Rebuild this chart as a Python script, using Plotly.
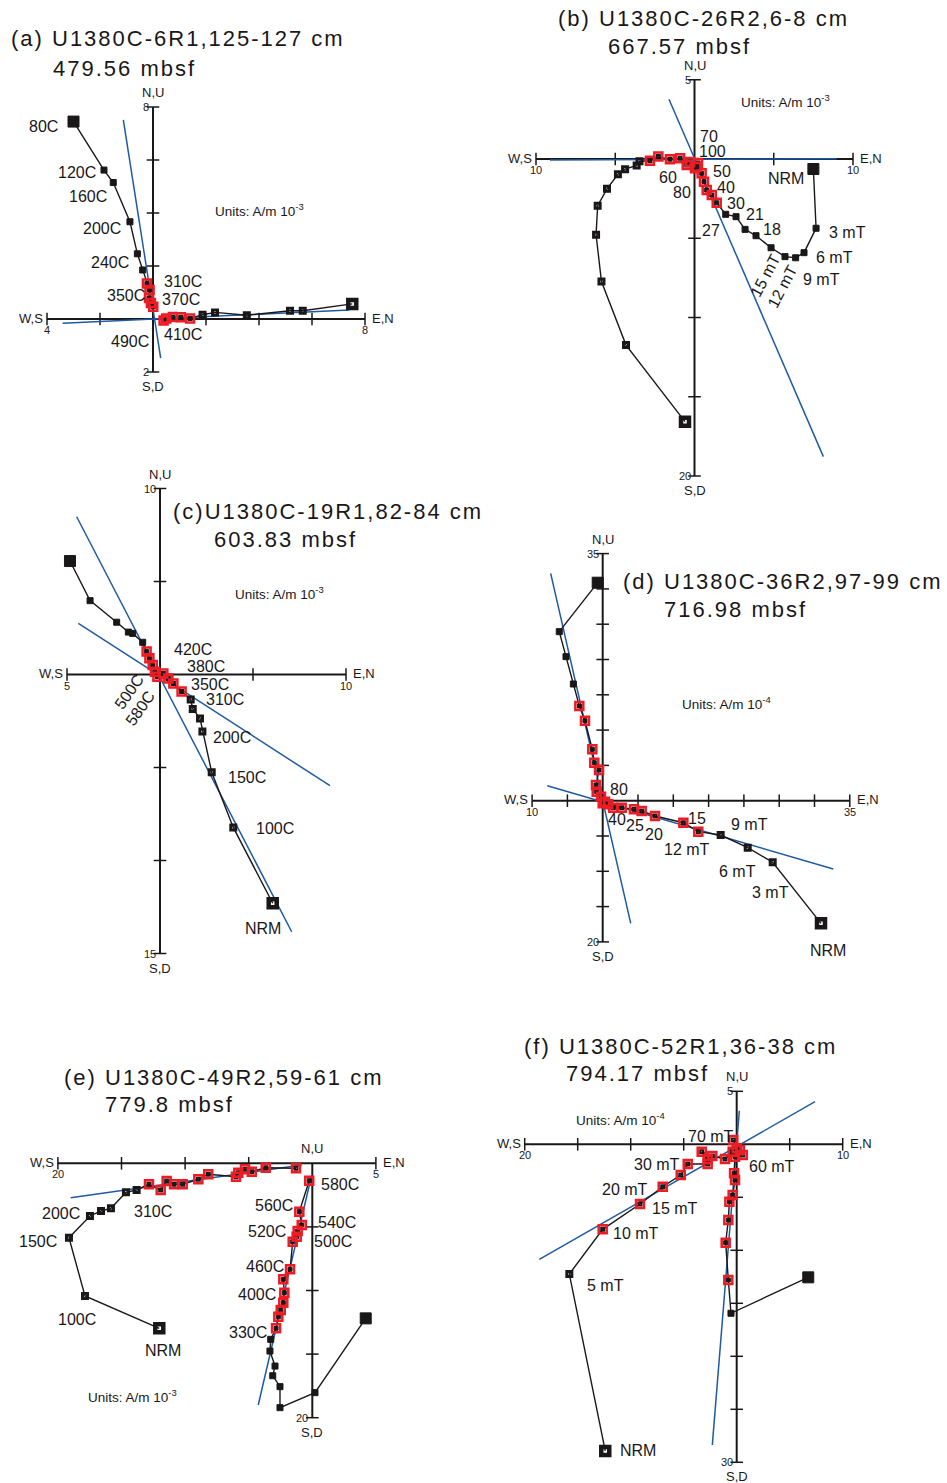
import numpy as np
import plotly.graph_objects as go

W, H = 947, 1483
INK = "#1a1718"
RED = "#ed1c24"
BLUE = "#1f5aa6"
FONT = "Liberation Sans, Arial, sans-serif"

# ---------------- (a) U1380C-6R1 ----------------
A_H_X = [-3.00, -1.85, -1.50, -0.87, -0.59, -0.39, -0.23, -0.13, -0.15, -0.08, 0.01]
A_H_Y = [7.45, 5.62, 5.15, 3.67, 2.46, 1.85, 1.34, 1.09, 0.79, 0.60, 0.46]
A_H_FIT = [0, 0, 0, 0, 0, 0, 1, 1, 1, 1, 1]
A_V_X = [7.52, 5.65, 5.17, 3.54, 2.34, 1.87, 1.40, 1.05, 0.75, 0.50, 0.40]
A_V_Y = [0.57, 0.31, 0.31, 0.14, 0.25, 0.16, 0.02, 0.07, 0.08, 0.02, -0.06]
A_V_FIT = [0, 0, 0, 0, 0, 0, 1, 1, 1, 1, 1]
A_LINES = [[(-1.12, 7.51), (0.29, -1.48)], [(-3.41, -0.16), (7.41, 0.34)]]
A_LABELS = [("80C", -4.15, 7.28), ("120C", -2.87, 5.51), ("160C", -2.45, 4.64),
            ("200C", -1.92, 3.40), ("240C", -1.62, 2.15), ("310C", 1.13, 1.40),
            ("350C", -1.02, 0.87), ("370C", 1.06, 0.75), ("490C", -0.87, -0.83),
            ("410C", 1.13, -0.60)]
A_ROT = []
A_UNITS = ("-3", 4.0, 4.11)
A_TITLE = ["(a) U1380C-6R1,125-127 cm", "479.56 mbsf"]

# ---------------- (b) U1380C-26R2 ----------------
B_H_X = [7.50, 7.67, 6.91, 6.38, 5.71, 4.83, 3.88, 3.19, 2.62, 1.97, 1.40, 1.09, 0.77, 0.60, 0.45, 0.03, 0.22]
B_H_Y = [-0.63, -4.37, -5.91, -6.23, -6.16, -5.60, -4.84, -4.44, -3.64, -3.49, -2.76, -2.27, -1.96, -1.43, -0.90, -0.59, -0.25]
B_H_FIT = [0, 0, 0, 0, 0, 0, 0, 0, 0, 0, 1, 1, 1, 1, 1, 1, 1]
B_V_X = [-0.60, -4.32, -5.87, -6.21, -6.11, -5.52, -4.83, -4.38, -3.65, -3.47, -2.81, -2.28, -1.55, -0.91, -0.49, -0.28, 0.14]
B_V_Y = [-16.57, -11.74, -7.73, -4.78, -2.95, -1.88, -0.96, -0.64, -0.41, -0.14, -0.11, 0.15, -0.02, 0.04, -0.38, -0.19, -0.49]
B_V_FIT = [0, 0, 0, 0, 0, 0, 0, 0, 0, 0, 1, 1, 1, 1, 1, 1, 1]
B_LINES = [[(-9.12, -0.06), (8.97, 0.02)], [(-1.61, 3.77), (8.13, -18.78)]]
B_LABELS = [("70", 0.92, 1.40), ("100", 1.12, 0.50), ("50", 1.72, -0.78), ("60", -1.65, -1.15),
            ("40", 1.99, -1.80), ("80", -0.81, -2.10), ("30", 2.62, -2.80), ("21", 3.82, -3.53),
            ("18", 4.87, -4.44), ("27", 1.04, -4.48), ("NRM", 5.77, -1.26), ("3 mT", 9.64, -4.62),
            ("6 mT", 8.84, -6.23), ("9 mT", 8.00, -7.63)]
B_ROT = [("15 mT", 4.45, -7.32, -62), ("12 mT", 5.56, -8.06, -62)]
B_UNITS = ("-3", 5.71, 3.66)
B_TITLE = ["(b) U1380C-26R2,6-8 cm", "667.57 mbsf"]

# ---------------- (c) U1380C-19R1 ----------------
C_H_X = [-4.84, -3.76, -2.33, -1.70, -1.47, -0.93, -0.72, -0.57, -0.39, -0.27, -0.14]
C_H_Y = [6.10, 3.97, 2.81, 2.28, 2.21, 1.73, 1.23, 0.87, 0.51, 0.15, -0.12]
C_H_FIT = [0, 0, 0, 0, 0, 0, 1, 1, 1, 1, 1]
C_V_X = [6.06, 3.94, 2.78, 2.28, 2.15, 1.76, 1.65, 1.16, 0.72, 0.45, 0.18]
C_V_Y = [-12.30, -8.22, -5.26, -3.07, -2.36, -1.85, -1.34, -0.92, -0.48, -0.21, 0.06]
C_V_FIT = [0, 0, 0, 0, 0, 0, 0, 1, 1, 1, 1]
C_LINES = [[(-4.48, 8.48), (7.08, -13.83)], [(-4.39, 2.75), (9.14, -5.98)]]
C_LABELS = [("420C", 1.77, 1.32), ("380C", 2.46, 0.42), ("350C", 2.69, -0.56), ("310C", 3.49, -1.32),
            ("200C", 3.87, -3.40), ("150C", 4.70, -5.53), ("100C", 6.20, -8.27), ("NRM", 5.56, -13.68)]
C_ROT = [("500C", -1.65, -0.92, -55), ("580C", -1.08, -1.82, -55)]
C_UNITS = ("-3", 6.40, 4.37)
C_TITLE = ["(c)U1380C-19R1,82-84 cm", "603.83 mbsf"]

# ---------------- (d) U1380C-36R2 ----------------
D_H_X = [-0.71, -6.15, -5.20, -4.16, -3.31, -2.51, -1.47, -1.19, -0.52, -0.95, -0.85, -0.24, 0.0]
D_H_Y = [30.88, 23.94, 20.40, 16.53, 13.41, 11.33, 7.28, 5.38, 4.35, 2.22, 1.27, 0.57, -0.37]
D_H_FIT = [0, 0, 0, 0, 1, 1, 1, 1, 1, 1, 1, 1, 1]
D_V_X = [30.92, 24.08, 20.54, 16.71, 13.54, 11.42, 7.41, 5.52, 4.43, 2.69, 1.50, 0.79, 0.33]
D_V_Y = [-17.37, -8.73, -6.65, -4.86, -4.39, -3.12, -2.17, -1.46, -1.22, -0.99, -0.99, -0.52, -0.14]
D_V_FIT = [0, 0, 0, 0, 1, 1, 1, 1, 1, 1, 1, 1, 1]
D_LINES = [[(-7.37, 32.21), (3.97, -17.37)], [(-7.85, 2.12), (32.66, -9.67)]]
D_LABELS = [("80", 2.27, 1.62), ("40", 2.07, -2.63), ("25", 4.62, -3.54), ("20", 7.22, -4.72),
            ("15", 13.40, -2.49), ("9 mT", 20.86, -3.44), ("12 mT", 11.98, -6.98),
            ("6 mT", 19.16, -10.06), ("3 mT", 23.70, -13.03), ("NRM", 31.87, -21.15)]
D_ROT = []
D_UNITS = ("-4", 17.56, 13.88)
D_TITLE = ["(d) U1380C-36R2,97-99 cm", "716.98 mbsf"]

# ---------------- (e) U1380C-49R2 ----------------
E_H_X = [4.20, 0.21, -2.54, -2.54, -3.11, -2.93, -3.33, -3.27, -2.85, -2.67, -2.48, -2.28, -2.20,
         -2.28, -1.75, -1.54, -1.23, -1.15, -0.83, -1.02, -0.24]
E_H_Y = [-12.19, -18.03, -19.21, -17.56, -16.70, -15.94, -14.76, -13.84, -12.97, -12.06, -11.53,
         -10.96, -10.17, -9.12, -8.33, -6.16, -5.77, -5.32, -4.85, -3.80, -1.37]
E_H_FIT = [0, 0, 0, 0, 0, 0, 0, 0, 1, 1, 1, 1, 1, 1, 1, 1, 1, 1, 1, 1, 1]
E_V_X = [-12.03, -17.87, -19.13, -17.48, -16.61, -15.83, -14.65, -13.81, -12.84, -11.92, -11.45,
         -10.87, -10.19, -8.96, -8.18, -6.00, -5.82, -5.29, -4.76, -3.66, -1.28]
E_V_Y = [-12.97, -10.43, -5.85, -4.14, -3.75, -3.54, -2.28, -2.10, -1.65, -2.10, -1.39, -1.65,
         -1.65, -1.26, -0.86, -1.05, -0.74, -0.47, -0.66, -0.35, -0.39]
E_V_FIT = [0, 0, 0, 0, 0, 0, 0, 0, 1, 1, 1, 1, 1, 1, 1, 1, 1, 1, 1, 1, 1]
E_LINES = [[(-18.99, -2.70), (-0.83, -0.13)], [(-4.25, -19.0), (-0.05, -0.92)]]
E_LABELS = [("580C", 2.18, -1.65), ("560C", -3.01, -3.33), ("540C", 1.97, -4.64),
            ("520C", -3.54, -5.38), ("500C", 1.65, -6.16), ("460C", -3.69, -8.13),
            ("400C", -4.37, -10.30), ("330C", -5.03, -13.29), ("310C", -12.50, -3.75),
            ("200C", -19.78, -3.93), ("150C", -21.56, -6.16), ("100C", -18.52, -12.26),
            ("NRM", -11.74, -14.68)]
E_ROT = []
E_UNITS = ("-3", -14.17, -18.29)
E_TITLE = ["(e) U1380C-49R2,59-61 cm", "779.8 mbsf"]

# ---------------- (f) U1380C-52R1 ----------------
F_H_X = [6.75, -0.54, -0.79, -1.04, -0.79, -0.69, -0.38, -0.16, -0.25, -0.16, 0.0]
F_H_Y = [-12.55, -15.94, -12.80, -9.28, -7.14, -5.41, -4.78, -3.37, -2.74, -1.17, -0.73]
F_H_FIT = [0, 0, 1, 1, 1, 1, 1, 1, 1, 1, 1]
F_V_X = [-12.40, -15.79, -12.64, -9.12, -6.98, -5.28, -4.62, -2.74, -2.74, -3.30, -2.30, -1.10,
         -0.38, 0.31, 0.57, 0.0, -0.32]
F_V_Y = [-28.93, -12.24, -8.02, -5.63, -4.00, -2.90, -1.86, -1.86, -1.42, -0.70, -1.10, -1.39,
         -0.70, -0.54, -1.01, -0.38, 0.41]
F_V_FIT = [0, 0, 1, 1, 1, 1, 1, 1, 1, 1, 1, 1, 1, 1, 1, 1, 1]
F_LINES = [[(-18.62, -10.85), (7.39, 4.02)], [(-2.30, -28.37), (0.25, 3.17)]]
F_LABELS = [("70 mT", -2.45, 0.78), ("60 mT", 3.36, -2.11), ("30 mT", -7.49, -1.95),
            ("20 mT", -10.54, -4.22), ("15 mT", -5.85, -6.10), ("10 mT", -9.50, -8.40),
            ("5 mT", -12.40, -13.34), ("NRM", -9.34, -28.93)]
F_ROT = []
F_UNITS = ("-4", -10.96, 2.36)
F_TITLE = ["(f) U1380C-52R1,36-38 cm", "794.17 mbsf"]

# axis extents (x min/max, y min/max), tick step and end tick labels (left, right, top, bottom)
A_AXIS = ([-4, 8], [-2, 8], 2, ["4", "8", "8", "2"])
B_AXIS = ([-10, 10], [-20, 5], 5, ["10", "10", "5", "20"])
C_AXIS = ([-5, 10], [-15, 10], 5, ["5", "10", "10", "15"])
D_AXIS = ([-10, 35], [-20, 35], 5, ["10", "35", "35", "20"])
E_AXIS = ([-20, 5], [-20, 0], 5, ["20", "5", "", "20"])
F_AXIS = ([-20, 10], [-30, 5], 5, ["20", "10", "5", "30"])

# page placement of each diagram: origin (px from left, px from top) and px per unit
FRAMES = {
    "a": (153.0, 319.0, 26.5),
    "b": (694.5, 159.0, 15.85),
    "c": (160.0, 674.5, 18.6),
    "d": (602.7, 800.7, 7.06),
    "e": (312.3, 1163.3, 12.72),
    "f": (736.7, 1144.3, 10.6),
}
# title lines: (left px, centre px from top) for line 1 and line 2
TITLE_POS = {
    "a": [(10, 39), (52, 69)],
    "b": [(557, 19), (607, 46)],
    "c": [(172, 512), (213, 539)],
    "d": [(622, 582), (663, 609)],
    "e": [(63, 1077), (104, 1104)],
    "f": [(523, 1046), (565, 1073)],
}

PANELS = [
    ("a", A_AXIS, (A_H_X, A_H_Y, A_H_FIT), (A_V_X, A_V_Y, A_V_FIT), A_LINES, A_LABELS, A_ROT, A_UNITS, A_TITLE),
    ("b", B_AXIS, (B_H_X, B_H_Y, B_H_FIT), (B_V_X, B_V_Y, B_V_FIT), B_LINES, B_LABELS, B_ROT, B_UNITS, B_TITLE),
    ("c", C_AXIS, (C_H_X, C_H_Y, C_H_FIT), (C_V_X, C_V_Y, C_V_FIT), C_LINES, C_LABELS, C_ROT, C_UNITS, C_TITLE),
    ("d", D_AXIS, (D_H_X, D_H_Y, D_H_FIT), (D_V_X, D_V_Y, D_V_FIT), D_LINES, D_LABELS, D_ROT, D_UNITS, D_TITLE),
    ("e", E_AXIS, (E_H_X, E_H_Y, E_H_FIT), (E_V_X, E_V_Y, E_V_FIT), E_LINES, E_LABELS, E_ROT, E_UNITS, E_TITLE),
    ("f", F_AXIS, (F_H_X, F_H_Y, F_H_FIT), (F_V_X, F_V_Y, F_V_FIT), F_LINES, F_LABELS, F_ROT, F_UNITS, F_TITLE),
]

fig = go.Figure()
annotations = []
layout_axes = {}


def txt(size):
    return dict(family=FONT, size=size, color=INK)


for k, (key, axis, hser, vser, fits, labels, rots, units, title) in enumerate(PANELS, start=1):
    xa = "x" if k == 1 else f"x{k}"
    ya = "y" if k == 1 else f"y{k}"
    ox, oy, s = FRAMES[key]
    layout_axes["xaxis" if k == 1 else f"xaxis{k}"] = dict(
        domain=[0, 1], range=[-ox / s, (W - ox) / s], visible=False, fixedrange=True, anchor=ya)
    layout_axes["yaxis" if k == 1 else f"yaxis{k}"] = dict(
        domain=[0, 1], range=[(oy - H) / s, oy / s], visible=False, fixedrange=True, anchor=xa)

    (x0, x1), (y0, y1), step, ends = axis
    # cross-shaped axes
    fig.add_trace(go.Scatter(x=[x0, x1, None, 0, 0], y=[0, 0, None, y0, y1], mode="lines",
                             line=dict(color=INK, width=2), xaxis=xa, yaxis=ya,
                             hoverinfo="skip", showlegend=False))
    tx = [t for t in np.arange(x0, x1 + step / 2, step) if t != 0]
    ty = [t for t in np.arange(y0, y1 + step / 2, step) if t != 0]
    fig.add_trace(go.Scatter(x=tx, y=[0] * len(tx), mode="markers",
                             marker=dict(symbol="line-ns", size=9, line=dict(color=INK, width=1.5)),
                             xaxis=xa, yaxis=ya, hoverinfo="skip", showlegend=False))
    fig.add_trace(go.Scatter(x=[0] * len(ty), y=ty, mode="markers",
                             marker=dict(symbol="line-ew", size=9, line=dict(color=INK, width=1.5)),
                             xaxis=xa, yaxis=ya, hoverinfo="skip", showlegend=False))

    # least-squares fit lines
    for (p, q) in fits:
        fig.add_trace(go.Scatter(x=[p[0], q[0]], y=[p[1], q[1]], mode="lines",
                                 line=dict(color=BLUE, width=1.5), xaxis=xa, yaxis=ya,
                                 hoverinfo="skip", showlegend=False))

    # demagnetisation paths: horizontal (filled) and vertical (open) projections
    for (xs, ys, fit), hollow in ((hser, False), (vser, True)):
        n = len(xs)
        if hollow:
            sym = "square-open"
            size = [8 if i == 0 else (3 if fit[i] else 5) for i in range(n)]
            lw = [4.5 if i == 0 else (2 if fit[i] else 3) for i in range(n)]
        else:
            sym = "square"
            size = [11 if i == 0 else (4 if fit[i] else 6) for i in range(n)]
            lw = [1] * n
        fig.add_trace(go.Scatter(x=xs, y=ys, mode="lines+markers",
                                 line=dict(color=INK, width=1.4),
                                 marker=dict(symbol=sym, size=size, color=INK, opacity=1,
                                             line=dict(color=INK, width=lw)),
                                 xaxis=xa, yaxis=ya, hoverinfo="skip", showlegend=False))
        fx = [xs[i] for i in range(n) if fit[i]]
        fy = [ys[i] for i in range(n) if fit[i]]
        fig.add_trace(go.Scatter(x=fx, y=fy, mode="markers",
                                 marker=dict(symbol="square-open", size=8, color=RED,
                                             line=dict(color=RED, width=2.5)),
                                 xaxis=xa, yaxis=ya, hoverinfo="skip", showlegend=False))

    # axis end labels
    base = dict(xref=xa, yref=ya, showarrow=False)
    annotations += [
        dict(base, x=x0, y=0, text="W,S", font=txt(13), xanchor="right", yanchor="middle", xshift=-2, yshift=1),
        dict(base, x=x1, y=0, text="E,N", font=txt(13), xanchor="left", yanchor="middle", xshift=5, yshift=1),
        dict(base, x=0, y=y1, text="N,U", font=txt(13), xanchor="center", yanchor="bottom", yshift=5),
        dict(base, x=0, y=y0, text="S,D", font=txt(13), xanchor="center", yanchor="top", yshift=-5),
        dict(base, x=x0, y=0, text=ends[0], font=txt(11), xanchor="center", yanchor="top", yshift=-3),
        dict(base, x=x1, y=0, text=ends[1], font=txt(11), xanchor="center", yanchor="top", yshift=-3),
        dict(base, x=0, y=y0, text=ends[3], font=txt(11), xanchor="right", yanchor="middle", xshift=-2),
    ]
    if ends[2]:
        annotations.append(dict(base, x=0, y=y1, text=ends[2], font=txt(11),
                                xanchor="right", yanchor="middle", xshift=-2))

    # step labels
    for (t, lx, ly) in labels:
        annotations.append(dict(base, x=lx, y=ly, text=t, font=txt(16),
                                xanchor="center", yanchor="middle"))
    for (t, lx, ly, ang) in rots:
        annotations.append(dict(base, x=lx, y=ly, text=t, font=txt(16), textangle=ang,
                                xanchor="center", yanchor="middle"))

    exp, ux, uy = units
    annotations.append(dict(base, x=ux, y=uy, text=f"Units: A/m 10<sup>{exp}</sup>",
                            font=txt(13.5), xanchor="center", yanchor="middle"))

    # two-line sample title
    for line, (px, py) in zip(title, TITLE_POS[key]):
        annotations.append(dict(xref="paper", yref="paper", x=px / W, y=1 - py / H, text=line,
                                showarrow=False, font=txt(22), xanchor="left", yanchor="middle",
                                align="left", borderpad=0))

fig.update_layout(
    width=W, height=H,
    margin=dict(l=0, r=0, t=0, b=0),
    paper_bgcolor="white", plot_bgcolor="rgba(0,0,0,0)",
    showlegend=False,
    annotations=annotations,
    **layout_axes,
)

# titles are set with wider tracking
POST = """
var st = document.createElement('style');
st.textContent = 'text.annotation-text[style*="font-size: 22px"]{letter-spacing:2px;}';
document.head.appendChild(st);
"""
fig.write_html("out.html", post_script=POST, config={"displayModeBar": False})
